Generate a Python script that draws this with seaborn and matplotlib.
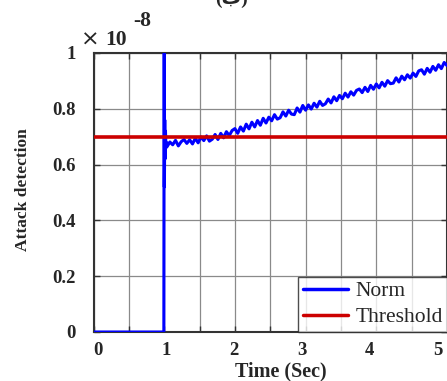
import numpy as np
import pandas as pd
import matplotlib
matplotlib.use("Agg")
import matplotlib.pyplot as plt
import matplotlib.transforms as mtransforms
import seaborn as sns

# ---- data ----
t_pre = [0.0, 0.995, 1.0, 1.003, 1.008, 1.012, 1.018, 1.025, 1.03]
norm_pre = [0.0, 0.0, 1.3, 0.52, 0.76, 0.62, 0.72, 0.66, 0.68]

t_main = [round(1.04 + 0.04 * i, 2) for i in range(100)]
norm_main = [
    0.664, 0.681, 0.671, 0.687, 0.667, 0.682, 0.690, 0.676, 0.689, 0.674,
    0.694, 0.678, 0.699, 0.686, 0.703, 0.684, 0.691, 0.708, 0.690, 0.712,
    0.696, 0.718, 0.704, 0.722, 0.729, 0.712, 0.735, 0.720, 0.745, 0.728,
    0.752, 0.735, 0.758, 0.741, 0.766, 0.749, 0.770, 0.757, 0.779, 0.763,
    0.768, 0.789, 0.774, 0.795, 0.781, 0.779, 0.803, 0.788, 0.812, 0.795,
    0.814, 0.799, 0.820, 0.806, 0.827, 0.812, 0.818, 0.835, 0.821, 0.843,
    0.829, 0.848, 0.836, 0.856, 0.842, 0.861, 0.849, 0.866, 0.871, 0.858,
    0.877, 0.862, 0.884, 0.870, 0.889, 0.875, 0.895, 0.881, 0.901, 0.890,
    0.892, 0.911, 0.896, 0.917, 0.904, 0.922, 0.910, 0.928, 0.916, 0.936,
    0.940, 0.924, 0.945, 0.931, 0.952, 0.938, 0.958, 0.944, 0.966, 0.955,
]
threshold_t = [0.0, 5.0]
threshold_v = [0.7, 0.7]

x_ticks = [0, 0.5, 1, 1.5, 2, 2.5, 3, 3.5, 4, 4.5, 5]
x_labels = ["0", "", "1", "", "2", "", "3", "", "4", "", "5"]
y_ticks = [0, 0.2, 0.4, 0.6, 0.8, 1.0]
y_labels = ["0", "0.2", "0.4", "0.6", "0.8", "1"]

norm_df = pd.DataFrame({"t": t_pre + t_main, "v": norm_pre + norm_main})
thr_df = pd.DataFrame({"t": threshold_t, "v": threshold_v})

sns.set_theme(style="white")
plt.rcParams["font.family"] = ["Liberation Serif", "DejaVu Sans"]

W, H = 447, 381
fig = plt.figure(figsize=(W / 100, H / 100), dpi=100)
ax = fig.add_axes([93.5 / W, (H - 332) / H, (447 - 93.5) / W, (332 - 53) / H])

sns.lineplot(data=norm_df, x="t", y="v", ax=ax, color="#0000ff", lw=2.2,
             sort=False, estimator=None, label="Norm", zorder=3)
sns.lineplot(data=thr_df, x="t", y="v", ax=ax, color="#cc0000", lw=2.6,
             sort=False, estimator=None, label="Threshold", zorder=4)

ax.set_xlim(0, 5)
ax.set_ylim(0, 1)
ax.set_xticks(x_ticks)
ax.set_xticklabels(x_labels)
ax.set_yticks(y_ticks)
ax.set_yticklabels(y_labels)
ax.grid(True, color="#8a8a8a", lw=0.9)
ax.tick_params(direction="in", length=4, width=1, color="#333333",
               top=True, right=True, bottom=True, left=True)
ax.tick_params(axis="y", pad=13)
ax.tick_params(axis="x", pad=7)
for lab in ax.get_xticklabels() + ax.get_yticklabels():
    lab.set_fontweight("bold")
    lab.set_fontsize(13.5)
# shift x tick labels to match reference placement
for tv, lab in zip(x_ticks, ax.get_xticklabels()):
    dx = (4.5 - 2.8 * tv) / 100
    lab.set_transform(lab.get_transform() + mtransforms.ScaledTranslation(dx, 0, fig.dpi_scale_trans))
for sp in ax.spines.values():
    sp.set_color("#333333")
    sp.set_linewidth(1.5)

ax.set_xlabel("")
ax.set_ylabel("")
fig.text(281 / W, 1 - 371 / H, "Time (Sec)", ha="center", va="center",
         fontsize=14.5, fontweight="bold")
fig.text(23 / W, 1 - 190 / H, "Attack detection", ha="center", va="center",
         rotation=90, fontsize=12.5, fontweight="bold")

# exponent
fig.text(81 / W, 1 - 40 / H, "×", ha="left", va="center", fontsize=16,
         family="DejaVu Sans")
fig.text(105 / W, 1 - 40 / H, "10", ha="left", va="center", fontsize=15.5,
         fontweight="bold")
fig.text(133 / W, 1 - 21 / H, "-8", ha="left", va="center", fontsize=15.5,
         fontweight="bold")

# cropped title
fig.text(231 / W, 1 - 4 / H, "(ب)", ha="center", va="baseline", fontsize=14,
         fontweight="bold", family=["Liberation Serif", "DejaVu Sans"])

leg = ax.legend(loc="lower left", bbox_to_anchor=(298 / W, 49 / H),
                bbox_transform=fig.transFigure, borderaxespad=0,
                fontsize=15.5, frameon=True, fancybox=False, handlelength=2.1,
                handletextpad=0.35, borderpad=0.22, labelspacing=0.3,
                handleheight=0.6)
leg.get_frame().set_edgecolor("#222222")
leg.get_frame().set_linewidth(1.0)
for line in leg.get_lines():
    line.set_linewidth(2.5)

fig.savefig("out.png", dpi=100)
